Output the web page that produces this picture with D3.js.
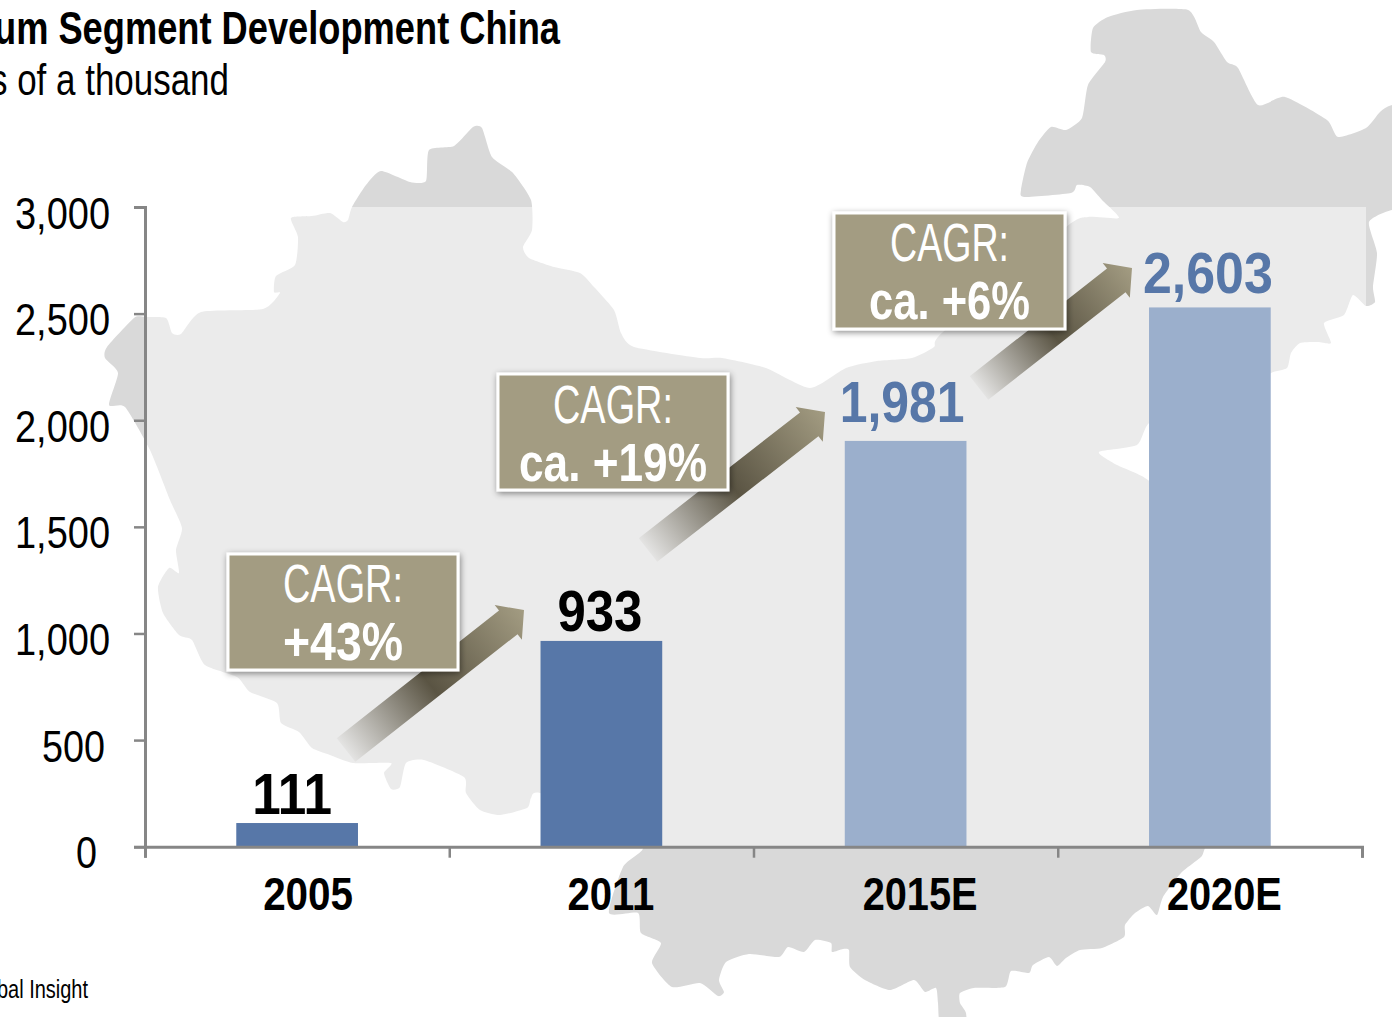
<!DOCTYPE html>
<html>
<head>
<meta charset="utf-8">
<script src="https://cdn.jsdelivr.net/npm/d3@7"></script>
<style>
  html, body { margin: 0; padding: 0; background: #fff; overflow: hidden; }
  svg { display: block; }
  text { font-family: "Liberation Sans Narrow", "Liberation Sans", Arial, sans-serif; }
</style>
</head>
<body>
<svg id="chart" width="1392" height="1017"></svg>
<script>
let categories = ["2005", "2011", "2015E", "2020E"];
// bar heights as drawn in the picture, they do not quite follow the printed labels
let barValues = [111, 965, 1903, 2529];
let barLabels = ["111", "933", "1,981", "2,603"];
let estimated = [false, false, true, true];
let yTicks = [0, 500, 1000, 1500, 2000, 2500, 3000];
let cagrTop = ["CAGR:", "CAGR:", "CAGR:"];
let cagrBottom = ["+43%", "ca. +19%", "ca. +6%"];

// background map of China, traced by hand
let mapOutline = [
  [105,358],[107,347],[134,318],[145,317],[166,318],[172,333],[181,334],[201,312],[263,309],[280,293],
  [274,292],[276,276],[295,265],[298,237],[291,218],[312,216],[330,213],[343,222],[348,220],[352,207],
  [366,185],[381,171],[410,182],[426,181],[429,150],[454,146],[473,127],[482,128],[492,157],[513,173],
  [531,200],[532,230],[523,247],[529,258],[554,267],[580,273],[594,287],[614,310],[621,333],[634,347],
  [700,358],[722,358],[766,368],[810,388],[846,368],[877,361],[912,358],[934,347],[943,332],[1066,227],
  [1088,217],[1119,218],[1102,200],[1090,187],[1077,185],[1071,193],[1024,197],[1021,190],[1027,163],
  [1038,142],[1051,127],[1066,130],[1082,118],[1088,85],[1105,62],[1104,55],[1091,52],[1093,28],[1108,17],
  [1137,10],[1188,10],[1201,32],[1214,42],[1227,62],[1238,68],[1258,105],[1285,97],[1327,120],[1338,137],
  [1366,128],[1380,112],[1392,105],[1430,100],[1430,210],[1392,210],[1369,222],[1377,253],[1373,287],
  [1375,302],[1366,306],[1353,295],[1344,315],[1324,323],[1331,343],[1318,342],[1300,343],[1291,353],
  [1287,368],[1271,373],[1250,390],[1200,400],[1150,422],[1137,445],[1099,452],[1117,465],[1148,480],
  [1180,520],[1230,620],[1250,740],[1225,800],[1205,848],[1201,857],[1181,873],[1163,897],[1157,915],
  [1148,906],[1135,913],[1125,925],[1124,937],[1102,948],[1080,950],[1066,958],[1057,966],[1049,957],
  [1033,965],[1029,973],[1011,971],[1005,987],[974,988],[960,993],[960,1003],[966,1013],[965,1030],
  [941,1030],[938,1003],[936,988],[925,992],[914,980],[890,990],[865,980],[850,967],[849,950],[843,949],
  [832,952],[831,943],[815,940],[804,952],[788,947],[779,957],[749,954],[726,962],[719,980],[724,992],
  [718,996],[700,983],[672,987],[652,963],[661,943],[641,933],[638,913],[609,913],[623,867],[643,848],
  [620,820],[540,793],[531,798],[527,808],[500,815],[480,810],[466,793],[464,777],[424,760],[406,763],
  [400,787],[391,789],[384,773],[391,763],[353,763],[330,755],[312,748],[299,732],[281,723],[277,703],
  [250,692],[237,677],[205,665],[192,640],[179,635],[163,613],[158,587],[169,568],[179,573],[176,550],
  [182,528],[170,500],[150,450],[125,407],[109,405],[118,373]
];

let svg = d3.select("#chart");
let defs = svg.append("defs");

let yScale = d3.scaleLinear().domain([0, 3000]).range([846.7, 207]);
let xScale = d3.scaleBand().domain(categories).range([145, 1362]).paddingInner(0.6).paddingOuter(0.3);
let xEdges = d3.scalePoint().domain(d3.range(categories.length + 1)).range([145, 1362]);

let axisColor = "#868686",
    barDark = "#5777a8",
    barLight = "#9bafcc",
    boxFill = "#a39c82";

// text is stretched to the width it has in the picture
let putText = (parent, str, x0, x1, y, size, weight, fill) => parent.append("text")
  .attr("x", x0)
  .attr("y", y)
  .attr("textLength", x1 - x0)
  .attr("lengthAdjust", "spacingAndGlyphs")
  .attr("font-size", size)
  .attr("font-weight", weight)
  .attr("fill", fill)
  .text(str);

// map and the pale plot panel on top of it
svg.append("path")
  .attr("d", d3.line().curve(d3.curveCardinalClosed.tension(0.4))(mapOutline))
  .attr("fill", "#d9d9d9");

svg.append("rect")
  .attr("x", xScale.range()[0])
  .attr("y", yScale(3000))
  .attr("width", 1221)
  .attr("height", yScale(0) - yScale(3000))
  .attr("fill", "#fff")
  .attr("opacity", 0.47);

// bars
svg.append("g").selectAll("rect")
  .data(barValues)
  .join("rect")
  .attr("x", (d, i) => xScale(categories[i]))
  .attr("y", d => yScale(d))
  .attr("width", xScale.bandwidth())
  .attr("height", d => yScale(0) - yScale(d))
  .attr("fill", (d, i) => estimated[i] ? barLight : barDark);

// axes
let yAxis = svg.append("g")
  .attr("transform", "translate(145,0)")
  .call(d3.axisLeft(yScale).tickValues(yTicks).tickSize(11).tickFormat(d3.format(",")));

svg.append("g")
  .attr("transform", `translate(0,${yScale(0)})`)
  .call(d3.axisBottom(xEdges).tickSize(11).tickFormat(""));

svg.selectAll(".domain, .tick line")
  .attr("stroke", axisColor);
svg.selectAll(".domain")
  .attr("stroke-width", 3);
svg.selectAll(".tick line")
  .attr("stroke-width", 2.5);

let yLabelEnd = d => d >= 1000 ? -35 : (d === 500 ? -40 : -48);
let yLabelWidth = d => d >= 1000 ? 95 : (d === 500 ? 63 : 21);

yAxis.selectAll(".tick text")
  .attr("x", d => yLabelEnd(d) - yLabelWidth(d))
  .attr("dy", null)
  .attr("y", 21)
  .attr("text-anchor", "start")
  .attr("textLength", d => yLabelWidth(d))
  .attr("lengthAdjust", "spacingAndGlyphs")
  .attr("font-size", 45)
  .attr("fill", "#000");

// category labels sit a bit right of the band centre
let catLabels = svg.append("g");
let catOffsets = [-34, -34, -43, -43];
let catWidths = [90, 87, 115, 115];
categories.forEach((c, i) => {
  let left = xScale(c) + xScale.bandwidth() / 2 + catOffsets[i];
  putText(catLabels, c, left, left + catWidths[i], 910, 46, "bold", "#000");
});

// value labels
let valueLabels = svg.append("g");
let valueOffsets = [-45, -44, -66, -67];
let valueWidths = [80, 85, 125, 130];
let valueGaps = [9, 10, 19, 14];
barLabels.forEach((t, i) => {
  let left = xScale(categories[i]) + xScale.bandwidth() / 2 + valueOffsets[i];
  let base = yScale(barValues[i]) - valueGaps[i];
  putText(valueLabels, t, left, left + valueWidths[i], base, 57, "bold", estimated[i] ? barDark : "#000");
});

// CAGR arrows
let arrowGeom = [
  { tail: [346, 750], tip: [524, 610] },
  { tail: [648, 550], tip: [825, 412] },
  { tail: [979, 388], tip: [1132, 268] }
];

let arrowPoints = (tail, tip) => {
  let dx = tip[0] - tail[0], dy = tip[1] - tail[1];
  let len = Math.hypot(dx, dy);
  let ux = dx / len, uy = dy / len;
  let nx = -uy, ny = ux;
  let headLen = 20, shaftHalf = 15, headHalf = 22;
  let bx = tip[0] - ux * headLen, by = tip[1] - uy * headLen;
  return [
    [tail[0] + nx * shaftHalf, tail[1] + ny * shaftHalf],
    [bx + nx * shaftHalf, by + ny * shaftHalf],
    [bx + nx * headHalf, by + ny * headHalf],
    tip,
    [bx - nx * headHalf, by - ny * headHalf],
    [bx - nx * shaftHalf, by - ny * shaftHalf],
    [tail[0] - nx * shaftHalf, tail[1] - ny * shaftHalf]
  ];
};

arrowGeom.forEach((a, i) => {
  let grad = defs.append("linearGradient")
    .attr("id", `arrowGrad${i}`)
    .attr("gradientUnits", "userSpaceOnUse")
    .attr("x1", a.tail[0])
    .attr("y1", a.tail[1])
    .attr("x2", a.tip[0])
    .attr("y2", a.tip[1]);
  grad.append("stop").attr("offset", 0).attr("stop-color", "#5a5443").attr("stop-opacity", 0.05);
  grad.append("stop").attr("offset", 0.47).attr("stop-color", "#5a5443").attr("stop-opacity", 1);
  grad.append("stop").attr("offset", 1).attr("stop-color", boxFill).attr("stop-opacity", 1);

  svg.append("polygon")
    .attr("points", arrowPoints(a.tail, a.tip).join(" "))
    .attr("fill", `url(#arrowGrad${i})`);
});

// CAGR boxes
let shadow = defs.append("filter")
  .attr("id", "boxShadow")
  .attr("x", "-10%").attr("y", "-15%").attr("width", "120%").attr("height", "130%");
shadow.append("feDropShadow")
  .attr("dx", 1)
  .attr("dy", 2)
  .attr("stdDeviation", 3)
  .attr("flood-color", "#000")
  .attr("flood-opacity", 0.45);

let boxGeom = [
  { x: 228, y: 554, w: 230, h: 116, top: [283, 403, 602], bottom: [283, 403, 660] },
  { x: 498, y: 374, w: 230, h: 116, top: [553, 673, 423], bottom: [519, 707, 481] },
  { x: 834, y: 213, w: 231, h: 116, top: [890, 1009, 261], bottom: [869, 1030, 319] }
];

boxGeom.forEach((b, i) => {
  svg.append("rect")
    .attr("x", b.x)
    .attr("y", b.y)
    .attr("width", b.w)
    .attr("height", b.h)
    .attr("fill", boxFill)
    .attr("stroke", "#fff")
    .attr("stroke-width", 3)
    .attr("filter", "url(#boxShadow)");
  putText(svg, cagrTop[i], b.top[0], b.top[1], b.top[2], 53, "normal", "#fff");
  putText(svg, cagrBottom[i], b.bottom[0], b.bottom[1], b.bottom[2], 53, "bold", "#fff");
});

// title, unit and source run off the left edge as in the picture
putText(svg, "um Segment Development China", -6, 560, 44, 46, "bold", "#000");
putText(svg, "s of a thousand", -10, 229, 95, 45, "normal", "#000");
putText(svg, "bal Insight", -3, 88, 998, 25, "normal", "#000");
</script>
</body>
</html>
